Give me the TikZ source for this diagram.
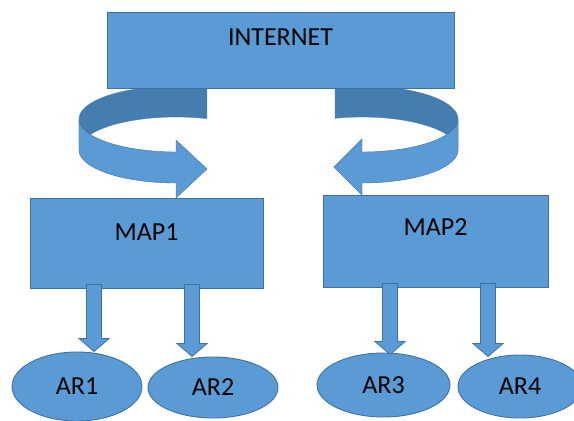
\documentclass[tikz,border=0pt]{standalone}
\usepackage{fontspec}
\setmainfont{Carlito}
\usetikzlibrary{shapes.geometric,calc}
\definecolor{boxblue}{HTML}{5B9BD5}
\definecolor{edgeblue}{HTML}{41719C}
\definecolor{backblue}{HTML}{467DB0}
\tikzset{
  box/.style={draw=edgeblue, line width=0.9pt, fill=boxblue, rectangle, inner sep=0pt},
  oval/.style={draw=edgeblue, line width=0.9pt, fill=boxblue, ellipse, inner sep=0pt,
    font=\fontsize{26}{30}\selectfont},
  lbl/.style={font=\fontsize{26}{30}\selectfont, text=black, inner sep=0pt},
  ribbonback/.style={fill=backblue, draw=backblue, line width=0.3pt},
  ribbonfront/.style={fill=boxblue, draw=edgeblue, line width=0.4pt},
  barrow/.style={draw=edgeblue, line width=0.8pt, fill=boxblue,
    to path={let \p1=(\tikztostart), \p2=(\tikztotarget) in
      (\x1-7.5pt,\y1) -- (\x1-7.5pt,\y2+13pt) -- (\x1-15pt,\y2+13pt) -- (\x1,\y2)
      -- (\x1+15pt,\y2+13pt) -- (\x1+7.5pt,\y2+13pt) -- (\x1+7.5pt,\y1) -- cycle}}
}
\begin{document}
\begin{tikzpicture}[x=1pt,y=-1pt]
\useasboundingbox (0,0) rectangle (574,421);
\clip (0,0) rectangle (574,421);
\fill[white] (0,0) rectangle (574,421);
% back faces of the curved arrows
\path[ribbonback] plot[domain=288.6:180, samples=40] ({176+97*cos(\x)}, {119+33*sin(\x)})
  -- plot[domain=180:288.6, samples=40] ({176+97*cos(\x)}, {150+33*sin(\x)}) -- cycle;
\path[ribbonback] plot[domain=253.7:360, samples=40] ({362+96*cos(\x)}, {119+33*sin(\x)})
  -- plot[domain=360:253.7, samples=40] ({362+96*cos(\x)}, {150+33*sin(\x)}) -- cycle;
% boxes
\node[box, minimum width=347pt, minimum height=76pt,
  label={[lbl, yshift=12.5pt]center:INTERNET}] (internet) at (280.5,50) {};
\node[box, minimum width=233pt, minimum height=90pt,
  label={[lbl, yshift=11pt]center:MAP1}] (map1) at (146.5,243) {};
\node[box, minimum width=225pt, minimum height=92pt,
  label={[lbl, yshift=14pt]center:MAP2}] (map2) at (435.5,241) {};
% front faces of the curved arrows
\path[ribbonfront] plot[domain=180:90, samples=40] ({176+97*cos(\x)}, {119+33*sin(\x)})
  -- (176,140) -- (207,169) -- (176,198)
  -- plot[domain=90:180, samples=40] ({176+97*cos(\x)}, {150+33*sin(\x)}) -- cycle;
\path[ribbonfront] plot[domain=0:90, samples=40] ({362+96*cos(\x)}, {119+33*sin(\x)})
  -- (362,139) -- (334,167) -- (362,195)
  -- plot[domain=90:0, samples=40] ({362+96*cos(\x)}, {150+33*sin(\x)}) -- cycle;
% ellipses
\node[oval, minimum width=130pt, minimum height=69pt] (ar1) at (77,386.5) {AR1};
\node[oval, minimum width=130pt, minimum height=61pt] (ar2) at (213,387.5) {AR2};
\node[oval, minimum width=133pt, minimum height=64pt] (ar3) at (383.5,385) {AR3};
\node[oval, minimum width=124pt, minimum height=63pt] (ar4) at (520,386.5) {AR4};
% block arrows
\draw[barrow] ([xshift=64.5pt, yshift=4pt]map1.south west) to ([xshift=17.5pt]ar1.north);
\draw[barrow] ([xshift=162.5pt, yshift=4pt]map1.south west) to ([xshift=-20.5pt]ar2.north);
\draw[barrow] ([xshift=67.5pt, yshift=4pt]map2.south west) to ([xshift=7pt, yshift=-2pt]ar3.north);
\draw[barrow] ([xshift=165.5pt, yshift=4pt]map2.south west) to ([xshift=-31.5pt, yshift=-2pt]ar4.north);
\end{tikzpicture}
\end{document}
